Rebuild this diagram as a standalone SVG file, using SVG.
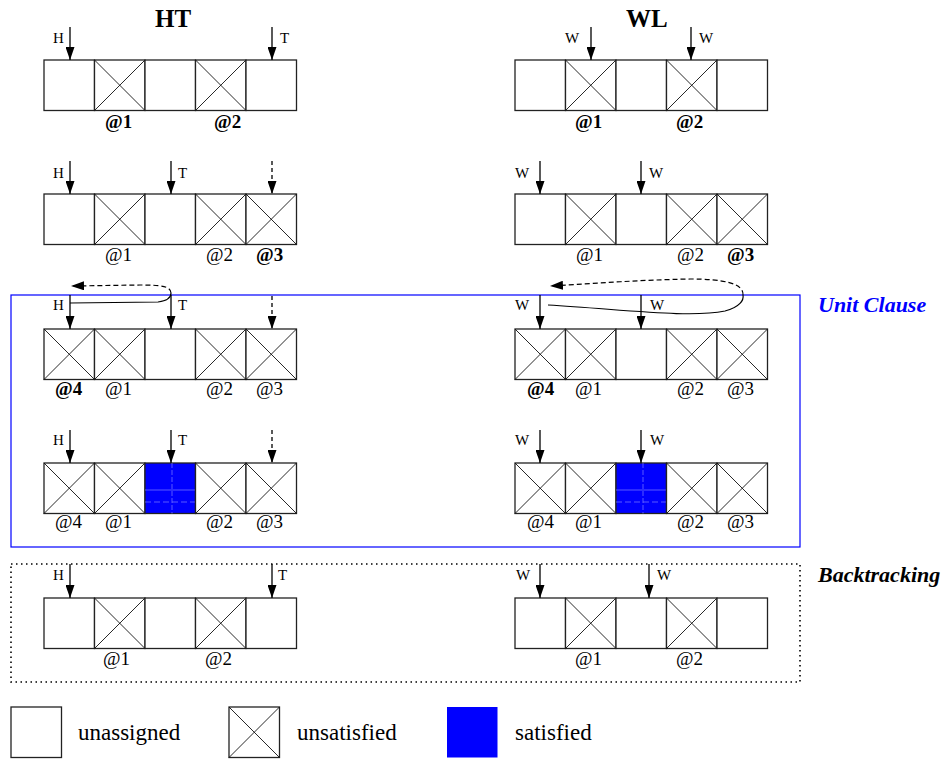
<svg xmlns="http://www.w3.org/2000/svg" xmlns:xlink="http://www.w3.org/1999/xlink" width="949" height="759" viewBox="0 0 949 759">
<style>
.cell{fill:#fff;stroke:#222;stroke-width:1.3}
.xl{stroke:#111;stroke-width:0.9}
.sat{fill:#0000ff;stroke:#222;stroke-width:1.3}
.grid{stroke:#6f6fff;stroke-width:0.8;fill:none}
.arr{stroke:#000;stroke-width:1.3;fill:none;marker-end:url(#ah)}
.darr{stroke:#000;stroke-width:1.3;fill:none;stroke-dasharray:4,3;marker-end:url(#ah)}
.loop{stroke:#000;stroke-width:1.2;fill:none}
text{font-family:'Liberation Serif','Times New Roman','DejaVu Serif',serif}
.lbl{font-size:15px;fill:#000}
.at{font-size:19px;fill:#000}
.b{font-weight:bold}
.title{font-size:25px;font-weight:bold;fill:#000}
.sec{font-size:22px;font-weight:bold;font-style:italic}
.leg{font-size:23px;fill:#000}
</style>
<defs>
<marker id="ah" markerUnits="userSpaceOnUse" markerWidth="13" markerHeight="9" refX="13" refY="4.5" orient="auto">
<path d="M0,0 L13,4.5 L0,9 z" fill="#000"/>
</marker>
<g id="ec"><rect class="cell" x="0" y="0" width="50.5" height="50.5"/></g>
<g id="xc"><rect class="cell" x="0" y="0" width="50.5" height="50.5"/><line class="xl" x1="0" y1="0" x2="50.5" y2="50.5"/><line class="xl" x1="50.5" y1="0" x2="0" y2="50.5"/></g>
<g id="bc"><rect class="sat" x="0" y="0" width="50.5" height="50.5"/><line class="grid" x1="27" y1="0" x2="27" y2="50.5" stroke-dasharray="5,2"/><line class="grid" x1="0" y1="27" x2="50.5" y2="27"/><line class="grid" x1="0" y1="39" x2="50.5" y2="39" stroke-dasharray="6,3"/></g>
</defs>

<text class="title" x="155" y="27" font-family="Liberation Serif, serif">HT</text>
<text class="title" x="626" y="27" font-family="Liberation Serif, serif">WL</text>

<rect id="unit-clause-box" x="11" y="295" width="789" height="252" fill="none" stroke="#0000ff" stroke-width="1.2"/>
<text class="sec" x="818" y="312" fill="#0000ff">Unit Clause</text>
<rect id="backtracking-box" x="11" y="564" width="789" height="118" fill="none" stroke="#000" stroke-width="1.6" stroke-dasharray="1.5,3.5"/>
<text class="sec" x="818" y="582" fill="#000">Backtracking</text>

<!-- Row 1 -->
<g id="ht-row1">
<use xlink:href="#ec" x="44" y="60"/><use xlink:href="#xc" x="94.5" y="60"/><use xlink:href="#ec" x="145" y="60"/><use xlink:href="#xc" x="195.5" y="60"/><use xlink:href="#ec" x="246" y="60"/>
<text class="at b" x="105" y="128">@1</text><text class="at b" x="214" y="128">@2</text>
</g>
<g id="wl-row1">
<use xlink:href="#ec" x="515" y="60"/><use xlink:href="#xc" x="565.5" y="60"/><use xlink:href="#ec" x="616" y="60"/><use xlink:href="#xc" x="666.5" y="60"/><use xlink:href="#ec" x="717" y="60"/>
<text class="at b" x="575" y="128">@1</text><text class="at b" x="676" y="128">@2</text>
</g>

<!-- Row 2 -->
<g id="ht-row2">
<use xlink:href="#ec" x="44" y="194"/><use xlink:href="#xc" x="94.5" y="194"/><use xlink:href="#ec" x="145" y="194"/><use xlink:href="#xc" x="195.5" y="194"/><use xlink:href="#xc" x="246" y="194"/>
<text class="at" x="105" y="261">@1</text><text class="at" x="206" y="261">@2</text><text class="at b" x="256" y="261">@3</text>
</g>
<g id="wl-row2">
<use xlink:href="#ec" x="515" y="194"/><use xlink:href="#xc" x="565.5" y="194"/><use xlink:href="#ec" x="616" y="194"/><use xlink:href="#xc" x="666.5" y="194"/><use xlink:href="#xc" x="717" y="194"/>
<text class="at" x="576" y="261">@1</text><text class="at" x="677" y="261">@2</text><text class="at b" x="727" y="261">@3</text>
</g>

<!-- Row 3 -->
<g id="ht-row3">
<use xlink:href="#xc" x="44" y="329"/><use xlink:href="#xc" x="94.5" y="329"/><use xlink:href="#ec" x="145" y="329"/><use xlink:href="#xc" x="195.5" y="329"/><use xlink:href="#xc" x="246" y="329"/>
<text class="at b" x="55" y="395">@4</text><text class="at" x="105" y="395">@1</text><text class="at" x="206" y="395">@2</text><text class="at" x="256" y="395">@3</text>
</g>
<g id="wl-row3">
<use xlink:href="#xc" x="515" y="329"/><use xlink:href="#xc" x="565.5" y="329"/><use xlink:href="#ec" x="616" y="329"/><use xlink:href="#xc" x="666.5" y="329"/><use xlink:href="#xc" x="717" y="329"/>
<text class="at b" x="527" y="395">@4</text><text class="at" x="575" y="395">@1</text><text class="at" x="677" y="395">@2</text><text class="at" x="727" y="395">@3</text>
</g>

<!-- Row 4 -->
<g id="ht-row4">
<use xlink:href="#xc" x="44" y="463"/><use xlink:href="#xc" x="94.5" y="463"/><use xlink:href="#bc" x="145" y="463"/><use xlink:href="#xc" x="195.5" y="463"/><use xlink:href="#xc" x="246" y="463"/>
<text class="at" x="55" y="528">@4</text><text class="at" x="105" y="528">@1</text><text class="at" x="206" y="528">@2</text><text class="at" x="256" y="528">@3</text>
</g>
<g id="wl-row4">
<use xlink:href="#xc" x="515" y="463"/><use xlink:href="#xc" x="565.5" y="463"/><use xlink:href="#bc" x="616" y="463"/><use xlink:href="#xc" x="666.5" y="463"/><use xlink:href="#xc" x="717" y="463"/>
<text class="at" x="527" y="528">@4</text><text class="at" x="575" y="528">@1</text><text class="at" x="677" y="528">@2</text><text class="at" x="727" y="528">@3</text>
</g>

<!-- Row 5 -->
<g id="ht-row5">
<use xlink:href="#ec" x="44" y="598"/><use xlink:href="#xc" x="94.5" y="598"/><use xlink:href="#ec" x="145" y="598"/><use xlink:href="#xc" x="195.5" y="598"/><use xlink:href="#ec" x="246" y="598"/>
<text class="at" x="103" y="665">@1</text><text class="at" x="205" y="665">@2</text>
</g>
<g id="wl-row5">
<use xlink:href="#ec" x="515" y="598"/><use xlink:href="#xc" x="565.5" y="598"/><use xlink:href="#ec" x="616" y="598"/><use xlink:href="#xc" x="666.5" y="598"/><use xlink:href="#ec" x="717" y="598"/>
<text class="at" x="575" y="665">@1</text><text class="at" x="676" y="665">@2</text>
</g>

<!-- Connectors / pointers -->
<g id="connectors">
<line class="arr" x1="70" y1="27" x2="70" y2="60"/><text class="lbl" x="53" y="43">H</text>
<line class="arr" x1="272" y1="27" x2="272" y2="60"/><text class="lbl" x="280" y="43">T</text>
<line class="arr" x1="591" y1="27" x2="591" y2="60"/><text class="lbl" x="565" y="43">W</text>
<line class="arr" x1="691" y1="27" x2="691" y2="60"/><text class="lbl" x="699" y="43">W</text>

<line class="arr" x1="70" y1="161" x2="70" y2="194"/><text class="lbl" x="53" y="178">H</text>
<line class="arr" x1="171" y1="161" x2="171" y2="194"/><text class="lbl" x="178" y="178">T</text>
<line class="darr" x1="272" y1="161" x2="272" y2="194"/>
<line class="arr" x1="540" y1="161" x2="540" y2="194"/><text class="lbl" x="515" y="178">W</text>
<line class="arr" x1="641" y1="161" x2="641" y2="194"/><text class="lbl" x="649" y="178">W</text>

<line class="arr" x1="70" y1="295" x2="70" y2="329"/><text class="lbl" x="53" y="310">H</text>
<line class="arr" x1="171" y1="295" x2="171" y2="329"/><text class="lbl" x="178" y="310">T</text>
<line class="darr" x1="272" y1="296" x2="272" y2="329"/>
<line class="arr" x1="540" y1="295" x2="540" y2="329"/><text class="lbl" x="515" y="310">W</text>
<line class="arr" x1="641" y1="295" x2="641" y2="329"/><text class="lbl" x="650" y="310">W</text>
<path class="loop" d="M70,303 L158,302 C166,301 171,298 171,293"/>
<path class="loop" d="M171,293 C171,286 160,285 140,285 L71,286" stroke-dasharray="5,3" marker-end="url(#ah)"/>
<path class="loop" d="M548,305 C630,310 690,318 725,311 C740,307 744,300 743,295"/>
<path class="loop" d="M743,295 C744,283 722,279 690,279 C640,280 600,283 550,286" stroke-dasharray="5,3" marker-end="url(#ah)"/>

<line class="arr" x1="70" y1="430" x2="70" y2="463"/><text class="lbl" x="53" y="445">H</text>
<line class="arr" x1="171" y1="430" x2="171" y2="463"/><text class="lbl" x="178" y="445">T</text>
<line class="darr" x1="272" y1="430" x2="272" y2="463"/>
<line class="arr" x1="540" y1="430" x2="540" y2="463"/><text class="lbl" x="515" y="445">W</text>
<line class="arr" x1="641" y1="430" x2="641" y2="463"/><text class="lbl" x="650" y="445">W</text>

<line class="arr" x1="70" y1="564" x2="70" y2="598"/><text class="lbl" x="53" y="580">H</text>
<line class="arr" x1="272" y1="564" x2="272" y2="598"/><text class="lbl" x="278" y="580">T</text>
<line class="arr" x1="540" y1="564" x2="540" y2="598"/><text class="lbl" x="516" y="580">W</text>
<line class="arr" x1="649" y1="564" x2="649" y2="598"/><text class="lbl" x="657" y="580">W</text>
</g>

<!-- Legend -->
<g id="legend-unassigned"><use xlink:href="#ec" x="11" y="707"/><text class="leg" x="78" y="740">unassigned</text></g>
<g id="legend-unsatisfied"><use xlink:href="#xc" x="229" y="707"/><text class="leg" x="297" y="740">unsatisfied</text></g>
<g id="legend-satisfied"><rect x="447" y="707" width="50.5" height="50.5" fill="#0000ff"/><text class="leg" x="515" y="740">satisfied</text></g>
</svg>
